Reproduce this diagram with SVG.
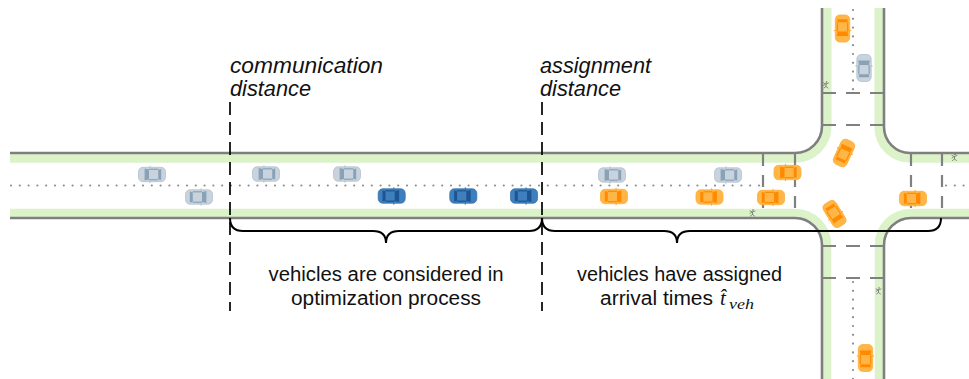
<svg xmlns="http://www.w3.org/2000/svg" width="969" height="379" viewBox="0 0 969 379">
  <style>
    .green{fill:none;stroke:#dcf3ca;stroke-width:9.5}
    .edge{fill:none;stroke:#7f7f7f;stroke-width:2.6}
    .stop{fill:none;stroke:#808080;stroke-width:2.2;stroke-dasharray:14 10}
    .stopv{fill:none;stroke:#808080;stroke-width:2.2;stroke-dasharray:12 9}
    .dots{fill:none;stroke:#8c8c8c;stroke-width:2.2;stroke-linecap:round;stroke-dasharray:0 8.8}
    .mark{fill:none;stroke:#000;stroke-width:1.7;stroke-dasharray:13 7}
    .brace{fill:none;stroke:#000;stroke-width:2}
    .lbl{font-family:"Liberation Sans",Arial,sans-serif;font-style:italic;font-size:22.5px;fill:#111}
    .txt{font-family:"Liberation Sans",Arial,sans-serif;font-size:20px;fill:#111}
    .math{font-family:"Liberation Serif","Times New Roman",serif;font-style:italic;fill:#111}
    .ped{fill:none;stroke:#6d6d6d;stroke-width:0.8;stroke-linecap:round}
  </style>
  <defs>
    <g id="car-gray">
      <rect x="-13.5" y="-7.2" width="27" height="14.4" rx="4.5" fill="#c8d3dd" stroke="#b3c1cd" stroke-width="0.8"/>
      <path d="M3,-4.9 L7.4,-5.9 V5.9 L3,4.9 Z" fill="#8aa2b8"/>
      <path d="M-9.2,-5.4 L-6.2,-4.7 V4.7 L-9.2,5.4 Z" fill="#8aa2b8"/>
      <rect x="-6.2" y="-5.8" width="9.2" height="1.2" fill="#8aa2b8"/>
      <rect x="-6.2" y="4.6" width="9.2" height="1.2" fill="#8aa2b8"/>
      <rect x="1.5" y="-8.6" width="1.1" height="1.8" fill="#b3c1cd"/>
      <rect x="1.5" y="6.8" width="1.1" height="1.8" fill="#b3c1cd"/>
    </g>
    <g id="car-blue">
      <rect x="-13.5" y="-7.2" width="27" height="14.4" rx="4.5" fill="#3f7fbd" stroke="#3473b0" stroke-width="0.8"/>
      <path d="M3,-4.9 L7.4,-5.9 V5.9 L3,4.9 Z" fill="#1c5592"/>
      <path d="M-9.2,-5.4 L-6.2,-4.7 V4.7 L-9.2,5.4 Z" fill="#1c5592"/>
      <rect x="-6.2" y="-5.8" width="9.2" height="1.2" fill="#1c5592"/>
      <rect x="-6.2" y="4.6" width="9.2" height="1.2" fill="#1c5592"/>
      <rect x="1.5" y="-8.6" width="1.1" height="1.8" fill="#3473b0"/>
      <rect x="1.5" y="6.8" width="1.1" height="1.8" fill="#3473b0"/>
    </g>
    <g id="car-orange">
      <rect x="-13.5" y="-7.2" width="27" height="14.4" rx="4.5" fill="#ffb647" stroke="#ffad3a" stroke-width="0.8"/>
      <path d="M3,-4.9 L7.4,-5.9 V5.9 L3,4.9 Z" fill="#ff8a00"/>
      <path d="M-9.2,-5.4 L-6.2,-4.7 V4.7 L-9.2,5.4 Z" fill="#ff8a00"/>
      <rect x="-6.2" y="-5.8" width="9.2" height="1.2" fill="#ff8a00"/>
      <rect x="-6.2" y="4.6" width="9.2" height="1.2" fill="#ff8a00"/>
      <rect x="1.5" y="-8.6" width="1.1" height="1.8" fill="#ffa52e"/>
      <rect x="1.5" y="6.8" width="1.1" height="1.8" fill="#ffa52e"/>
    </g>
    <g id="ped">
      <path class="ped" d="M-2.5,-2 L0,-1 L2.5,-2 M0,-1 V1.5 L-2,3 M0,1.5 L2,3 M-2.5,0.5 L-1,-0.5"/>
      <circle cx="0.5" cy="-3" r="0.8" fill="#6d6d6d"/>
    </g>
  </defs>

  <rect width="969" height="379" fill="#fff"/>

  <!-- road: green verges, then kerb lines -->
  <g id="road">
    <path class="green" d="M10,158 H795 A31.8 31.8 0 0 0 826.8,126 V8"/>
    <path class="green" d="M969,158 H910 A30.8 30.8 0 0 1 879.2,127 V8"/>
    <path class="green" d="M10,213.5 H795 A31.5 31.5 0 0 1 826.5,245 V379"/>
    <path class="green" d="M969,213.5 H911 A31.5 31.5 0 0 0 879.5,245 V379"/>
    <path class="edge" d="M10,153 H795 A27 27 0 0 0 822,126 V8"/>
    <path class="edge" d="M969,153 H910 A26 26 0 0 1 884,127 V8"/>
    <path class="edge" d="M10,218 H795 A27 27 0 0 1 822,245 V379"/>
    <path class="edge" d="M969,218 H911 A27 27 0 0 0 884,245 V379"/>

    <!-- stop lines -->
    <path class="stop" d="M822,93 H884"/>
    <path class="stop" d="M822,125 H884"/>
    <path class="stop" d="M822,246 H884"/>
    <path class="stop" d="M822,278 H884"/>
    <path class="stopv" d="M763,154 V218"/>
    <path class="stopv" d="M795,154 V218"/>
    <path class="stopv" d="M911,154 V218"/>
    <path class="stopv" d="M942,154 V218"/>

    <!-- centre lines -->
    <path class="dots" d="M11,185.5 H760"/>
    <path class="dots" d="M946,185.5 H969"/>
    <path class="dots" d="M853,10 V92"/>
    <path class="dots" d="M853,282 V379"/>

    <!-- pedestrian signs -->
    <use href="#ped" x="826" y="85"/>
    <use href="#ped" x="752.5" y="213"/>
    <use href="#ped" x="878.5" y="291"/>
    <use href="#ped" x="954.5" y="157.5"/>
  </g>

  <!-- vehicles -->
  <g id="vehicles">
    <use href="#car-gray" transform="translate(152,174.5) rotate(180)"/>
    <use href="#car-gray" transform="translate(266,174) rotate(180)"/>
    <use href="#car-gray" transform="translate(347,174) rotate(180)"/>
    <use href="#car-gray" transform="translate(612,175) rotate(180)"/>
    <use href="#car-gray" transform="translate(728,175) rotate(180)"/>
    <use href="#car-gray" transform="translate(199,197)"/>
    <use href="#car-blue" transform="translate(391.7,196)"/>
    <use href="#car-blue" transform="translate(463.3,196)"/>
    <use href="#car-blue" transform="translate(524,196)"/>
    <use href="#car-orange" transform="translate(614,196.5)"/>
    <use href="#car-orange" transform="translate(709.5,197)"/>
    <use href="#car-orange" transform="translate(771,197.5)"/>
    <use href="#car-orange" transform="translate(913,198.5)"/>
    <use href="#car-orange" transform="translate(787.5,172.5) rotate(180)"/>
    <use href="#car-orange" transform="translate(844,153) rotate(-65)"/>
    <use href="#car-orange" transform="translate(834.5,214) rotate(58)"/>
    <use href="#car-orange" transform="translate(842.5,28.5) rotate(90)"/>
    <use href="#car-gray" transform="translate(864,68) rotate(-90)"/>
    <use href="#car-orange" transform="translate(865.5,358) rotate(-90)"/>
  </g>

  <!-- distance markers and braces -->
  <g id="connectors">
    <path class="mark" d="M230,102 V311"/>
    <path class="mark" d="M542,102 V311"/>
    <path class="brace" d="M230,218 Q230,231 243,231 H373 Q386,231 386,243 Q386,231 399,231 H529 Q542,231 542,218"/>
    <path class="brace" d="M542,218 Q542,231 555,231 H664 Q677,231 677,243 Q677,231 690,231 H928 Q941,231 941,218"/>
  </g>

  <g id="communication-distance">
    <text class="lbl" x="230" y="72.5" textLength="153" lengthAdjust="spacingAndGlyphs">communication</text>
    <text class="lbl" x="230" y="96" textLength="81" lengthAdjust="spacingAndGlyphs">distance</text>
  </g>
  <g id="assignment-distance">
    <text class="lbl" x="540" y="72.5" textLength="111" lengthAdjust="spacingAndGlyphs">assignment</text>
    <text class="lbl" x="540" y="96" textLength="81" lengthAdjust="spacingAndGlyphs">distance</text>
  </g>
  <g id="optimization-note">
    <text class="txt" x="268.5" y="281" textLength="235" lengthAdjust="spacingAndGlyphs">vehicles are considered in</text>
    <text class="txt" x="291" y="305" textLength="190" lengthAdjust="spacingAndGlyphs">optimization process</text>
  </g>
  <g id="assignment-note">
    <text class="txt" x="577" y="281" textLength="205" lengthAdjust="spacingAndGlyphs">vehicles have assigned</text>
    <text class="txt" x="600" y="305" textLength="113" lengthAdjust="spacingAndGlyphs">arrival times</text>
    <text class="math" x="720" y="305" font-size="21">t̂</text>
    <text class="math" x="729" y="309" font-size="15" textLength="25" lengthAdjust="spacingAndGlyphs">veh</text>
  </g>
</svg>
